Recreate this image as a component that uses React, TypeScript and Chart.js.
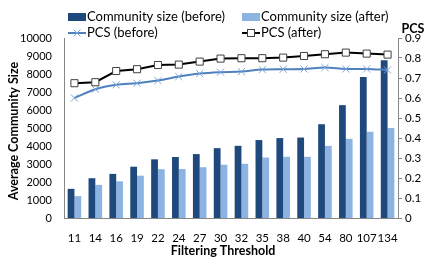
import React, { useEffect, useRef } from "react";
import { Chart, registerables } from "chart.js";

Chart.register(...registerables);

const categories = ["11", "14", "16", "19", "22", "24", "27", "30", "32", "35", "38", "40", "54", "80", "107", "134"];
const sizeBefore = [1620, 2210, 2450, 2850, 3260, 3390, 3550, 3880, 4010, 4330, 4440, 4470, 5210, 6270, 7840, 8760];
const sizeAfter = [1215, 1840, 2040, 2350, 2710, 2720, 2820, 2960, 3010, 3360, 3400, 3400, 4010, 4400, 4790, 5000];
const pcsBefore = [0.600, 0.644, 0.666, 0.674, 0.687, 0.707, 0.722, 0.729, 0.732, 0.742, 0.744, 0.745, 0.752, 0.745, 0.745, 0.740];
const pcsAfter = [0.674, 0.679, 0.735, 0.744, 0.765, 0.767, 0.782, 0.797, 0.799, 0.799, 0.802, 0.810, 0.819, 0.827, 0.822, 0.817];

const DARK = "#1F497D";
const LIGHT = "#8DB3E2";
const PCS_B_LINE = "#4F81BD";
const PCS_B_MARK = "#7EA6DA";
const FONT = "Lato, 'Open Sans', sans-serif";

const overlayPlugin = {
  id: "overlay",
  afterDraw(chart: any) {
    const ctx = chart.ctx;
    ctx.save();
    ctx.fillStyle = "#000";
    ctx.font = `bold 12.5px ${FONT}`;
    ctx.textAlign = "center";
    ctx.textBaseline = "middle";
    ctx.fillText("Filtering Threshold", 223, 251);
    ctx.fillText("PCS", 413, 29);
    ctx.translate(14, 131);
    ctx.rotate(-Math.PI / 2);
    ctx.fillText("Average Community Size", 0, 0);
    ctx.restore();

    ctx.save();
    ctx.font = `13px ${FONT}`;
    ctx.textAlign = "left";
    ctx.textBaseline = "middle";
    const col1 = 68, col2 = 242, row1 = 17, row2 = 33, sw = 18;
    ctx.fillStyle = DARK;
    ctx.fillRect(col1, row1 - 4, sw, 8);
    ctx.fillStyle = LIGHT;
    ctx.fillRect(col2, row1 - 4, sw, 8);
    ctx.strokeStyle = PCS_B_LINE;
    ctx.lineWidth = 2;
    ctx.beginPath();
    ctx.moveTo(col1, row2);
    ctx.lineTo(col1 + sw, row2);
    ctx.stroke();
    ctx.strokeStyle = PCS_B_MARK;
    ctx.lineWidth = 1;
    ctx.beginPath();
    ctx.moveTo(col1 + 9 - 3.5, row2 - 3.5);
    ctx.lineTo(col1 + 9 + 3.5, row2 + 3.5);
    ctx.moveTo(col1 + 9 - 3.5, row2 + 3.5);
    ctx.lineTo(col1 + 9 + 3.5, row2 - 3.5);
    ctx.stroke();
    ctx.strokeStyle = "#000";
    ctx.lineWidth = 2;
    ctx.beginPath();
    ctx.moveTo(col2, row2);
    ctx.lineTo(col2 + sw, row2);
    ctx.stroke();
    ctx.fillStyle = "#fff";
    ctx.fillRect(col2 + 9 - 3.5, row2 - 3.5, 7, 7);
    ctx.strokeStyle = "#404040";
    ctx.lineWidth = 1;
    ctx.strokeRect(col2 + 9 - 3.5, row2 - 3.5, 7, 7);
    ctx.fillStyle = "#000";
    ctx.fillText("Community size (before)", col1 + sw + 1, row1);
    ctx.fillText("Community size (after)", col2 + sw + 1, row1);
    ctx.fillText("PCS (before)", col1 + sw + 1, row2);
    ctx.fillText("PCS (after)", col2 + sw + 1, row2);
    ctx.restore();
  },
};

export default function App() {
  const ref = useRef<HTMLCanvasElement | null>(null);
  useEffect(() => {
    if (!ref.current) return;
    const chart = new Chart(ref.current, {
      type: "bar",
      data: {
        labels: categories,
        datasets: [
          {
            type: "line",
            label: "PCS (before)",
            data: pcsBefore,
            yAxisID: "y1",
            borderColor: PCS_B_LINE,
            borderWidth: 2,
            tension: 0.35,
            pointStyle: "crossRot",
            pointRadius: 5,
            pointBorderColor: PCS_B_MARK,
            pointBorderWidth: 1,
            order: 1,
          } as any,
          {
            type: "line",
            label: "PCS (after)",
            data: pcsAfter,
            yAxisID: "y1",
            borderColor: "#000",
            borderWidth: 2,
            tension: 0,
            pointStyle: "rect",
            pointRadius: 5,
            pointBackgroundColor: "#fff",
            pointBorderColor: "#404040",
            pointBorderWidth: 1,
            order: 0,
          } as any,
          {
            type: "bar",
            label: "Community size (before)",
            data: sizeBefore,
            yAxisID: "y",
            backgroundColor: DARK,
            categoryPercentage: 0.65,
            barPercentage: 1,
            order: 2,
          },
          {
            type: "bar",
            label: "Community size (after)",
            data: sizeAfter,
            yAxisID: "y",
            backgroundColor: LIGHT,
            categoryPercentage: 0.65,
            barPercentage: 1,
            order: 2,
          },
        ],
      },
      options: {
        animation: false,
        responsive: false,
        layout: { padding: { top: 38, left: 0, right: 0, bottom: 0 } },
        plugins: { legend: { display: false }, tooltip: { enabled: false } },
        scales: {
          x: {
            grid: { display: false, drawTicks: false },
            border: { display: true, color: "#868686" },
            ticks: { color: "#000", font: { family: FONT, size: 11.5 }, padding: 13, maxRotation: 0, autoSkip: false },
            afterFit: (s: any) => { s.height = 41; },
          },
          y: {
            position: "left",
            min: 0,
            max: 10000,
            grid: { display: false, drawTicks: false },
            border: { display: true, color: "#868686" },
            ticks: { stepSize: 1000, color: "#000", font: { family: FONT, size: 11 }, padding: 12, callback: (v: any) => String(v) },
            afterFit: (s: any) => { s.width = 64; },
          },
          y1: {
            position: "right",
            min: 0,
            max: 0.9,
            grid: { display: true, drawOnChartArea: false, drawTicks: true, tickLength: 4, color: "#868686" },
            border: { display: true, color: "#868686" },
            ticks: {
              stepSize: 0.1,
              color: "#000",
              font: { family: FONT, size: 11.5 },
              padding: 3,
              callback: (v: any) => (Math.abs(v) < 1e-9 ? "0" : Number(v).toFixed(1)),
            },
            afterFit: (s: any) => { s.width = 30; },
          },
        },
      },
      plugins: [overlayPlugin],
    });
    return () => chart.destroy();
  }, []);
  return (
    <div style={{ position: "fixed", left: 0, top: 0, width: 428, height: 259, background: "#fff" }}>
      <canvas ref={ref} width={428} height={259} style={{ width: 428, height: 259, display: "block" }} />
    </div>
  );
}
